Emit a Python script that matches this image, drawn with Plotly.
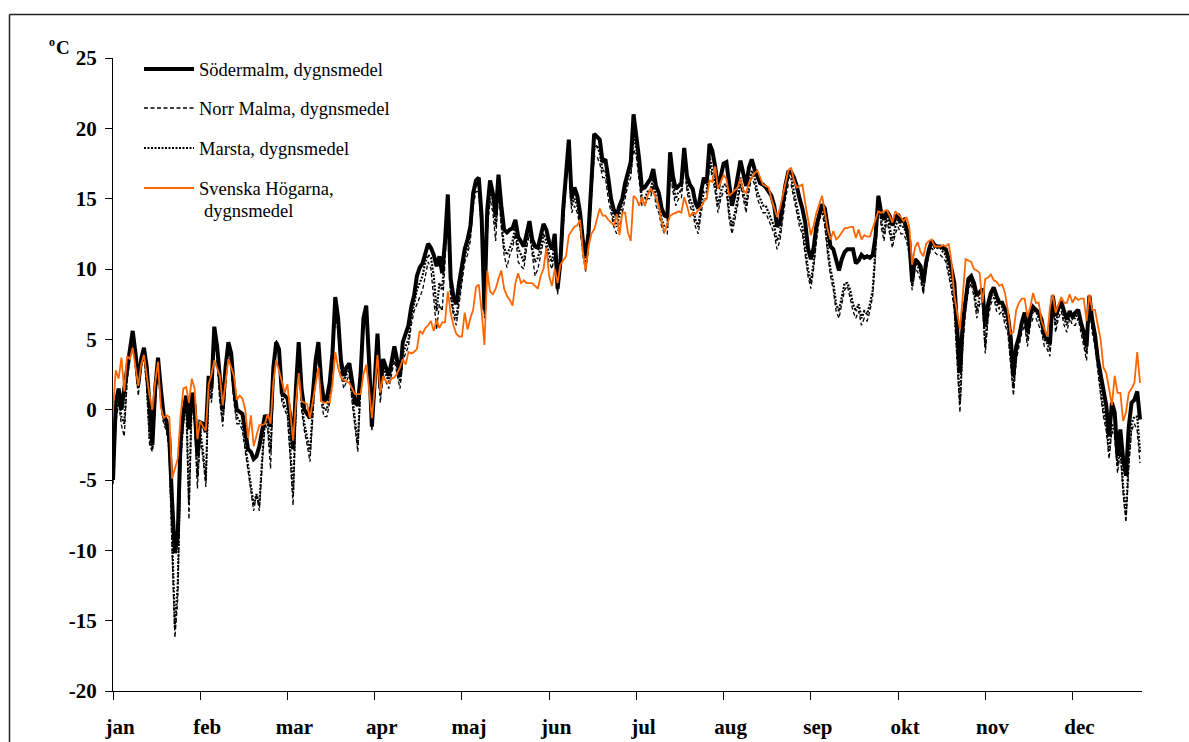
import plotly.graph_objects as go

# Daily mean temperatures (deg C), one value per day, day index 0..365
SODERMALM = [
    -5.0, 0.5, 1.5, 0.0, 1.5, 3.0, 4.5, 5.6, 4.0, 1.8,
    3.6, 4.4, 3.0, 0.0, -2.5, 1.5, 3.7, 1.5, -0.4, -0.8,
    -2.0, -6.5, -10.2, -9.0, -2.2, -0.2, 1.0, -1.4, 1.2, 0.3,
    -3.3, -0.9, -1.0, -1.6, 2.4, 1.5, 5.9, 4.5, 2.0, 0.0,
    3.0, 4.8, 4.0, 1.5, 0.0, -0.2, -0.3, -1.5, -2.8, -3.0,
    -3.5, -3.3, -2.6, -1.5, -0.4, -0.6, -1.2, 3.0, 4.8, 4.3,
    1.2, 1.0, 0.8, -0.5, -2.8, 1.5, 4.8, 1.5, 0.0, -0.3,
    -0.6, 1.0, 3.5, 4.8, 2.0, 0.6, 0.8, 1.9, 4.0, 8.0,
    6.5, 3.5, 2.4, 3.0, 3.3, 2.0, 0.5, 0.3, 2.5, 6.5,
    7.4, 3.5, -1.2, 2.0, 5.4, 1.5, 3.6, 3.0, 2.4, 3.4,
    4.5, 3.5, 2.4, 4.8, 5.5, 6.0, 7.3, 8.1, 9.5, 10.1,
    10.4, 11.2, 11.8, 11.5, 11.0, 10.2, 10.9, 9.7, 12.0, 15.3,
    9.3, 8.0, 7.5, 9.0, 10.3, 11.4, 12.1, 13.0, 15.4, 16.3,
    16.5, 13.8, 7.1, 14.2, 16.3, 15.4, 13.8, 16.7, 14.5, 12.8,
    12.6, 12.8, 12.9, 13.5, 12.3, 12.0, 11.6, 12.5, 13.4, 12.1,
    11.6, 11.5, 12.3, 13.2, 12.8, 11.9, 11.4, 12.5, 8.6, 10.5,
    14.3, 17.0, 19.2, 15.0, 15.8, 15.2, 14.0, 12.0, 10.9, 12.6,
    16.0, 19.6, 19.4, 19.2, 17.6, 17.8, 16.5, 15.0, 14.2, 13.8,
    14.5, 15.0, 16.1, 16.8, 17.6, 21.0, 19.5, 17.8, 15.7, 15.8,
    16.1, 16.4, 17.1, 15.9, 15.4, 14.3, 13.8, 13.7, 18.3, 16.6,
    15.7, 15.9, 16.1, 18.6, 16.6, 16.0, 15.7, 14.7, 14.3, 15.5,
    16.5, 16.1, 18.9, 18.4, 17.3, 15.7, 16.8, 17.5, 17.6, 16.0,
    14.5, 15.4, 16.5, 17.7, 16.8, 15.9, 17.2, 17.8, 17.1, 16.6,
    16.1, 16.0, 15.8, 15.5, 15.2, 14.5, 13.0, 13.3, 14.7, 16.0,
    16.9, 16.9, 16.5, 15.9, 15.0, 14.3, 13.3, 11.5, 10.7, 11.5,
    13.1, 14.0, 14.6, 14.3, 13.0, 11.6, 11.4, 10.5, 9.9, 10.7,
    11.2, 11.4, 11.4, 11.4, 10.4, 10.6, 11.0, 10.8, 10.9, 10.8,
    11.0, 12.3, 15.2, 14.0, 13.5, 14.1, 13.8, 13.1, 13.6, 13.9,
    13.4, 13.5, 12.9, 12.0, 9.1, 10.7, 10.5, 10.2, 9.0, 10.5,
    11.4, 12.0, 11.7, 11.6, 11.6, 11.5, 11.4, 10.7, 10.0, 9.0,
    6.2, 2.6, 6.2, 8.0, 9.3, 9.5, 9.0, 8.1, 8.3, 8.6,
    5.9, 7.5, 8.3, 8.7, 8.1, 7.6, 7.6, 7.2, 6.7, 5.2,
    2.4, 4.5, 5.2, 6.2, 6.9, 5.5, 6.7, 7.3, 7.1, 6.9,
    6.4, 5.3, 5.0, 4.7, 8.1, 6.7, 7.2, 7.7, 7.0, 6.4,
    7.0, 6.6, 6.9, 7.1, 6.2, 5.5, 4.5, 8.1, 6.4, 5.3,
    3.6, 2.5, 1.2, 0.3, -1.9, 0.5, -0.2, -3.3, -1.4, -3.5,
    -4.7, -1.2, 0.5, 0.7, 1.3, -0.7,
]

NORR_MALMA = [
    -5.3, -1.0, 0.5, -1.1, -1.9, 2.0, 3.5, 4.8, 3.0, 1.0,
    3.0, 3.8, 1.5, -2.5, -3.0, 0.5, 3.3, 0.8, -1.0, -1.5,
    -3.0, -10.0, -16.2, -13.5, -4.0, -1.0, 0.5, -7.8, 0.5, -1.0,
    -5.6, -2.0, -3.5, -5.5, 1.8, 0.5, 5.2, 3.5, 0.5, -1.2,
    2.0, 4.4, 3.0, 0.5, -1.0, -1.0, -1.5, -3.0, -4.5, -6.0,
    -7.2, -6.0, -7.2, -4.0, -1.0, -1.5, -4.2, 2.0, 5.0, 4.0,
    0.5, 0.0, -0.5, -3.5, -6.8, 0.0, 4.3, 0.0, -1.5, -2.5,
    -3.7, -0.5, 2.5, 4.3, 0.5, -0.5, -0.5, 0.5, 3.0, 7.0,
    5.5, 2.5, 1.5, 2.0, 2.5, 0.5, -1.5, -3.0, 1.5, 5.5,
    6.5, 2.5, -1.5, 1.0, 4.5, 0.5, 2.5, 2.0, 1.5, 2.5,
    3.5, 2.5, 1.5, 3.5, 4.0, 4.5, 6.0, 7.0, 7.5, 8.0,
    8.5, 9.5, 10.5, 10.0, 8.0, 5.7, 7.5, 7.0, 10.5, 14.0,
    8.0, 6.7, 6.0, 7.5, 9.0, 10.5, 11.0, 12.0, 14.5, 15.5,
    15.5, 12.5, 6.5, 12.5, 15.0, 14.0, 12.0, 15.5, 13.0, 11.0,
    10.1, 11.0, 11.5, 12.5, 10.5, 10.2, 10.0, 11.5, 12.5, 11.0,
    9.5, 10.0, 11.0, 12.0, 11.5, 10.5, 10.0, 11.0, 8.2, 10.0,
    13.0, 16.0, 17.8, 14.0, 14.5, 14.0, 13.0, 11.0, 9.8, 11.5,
    15.0, 18.0, 18.0, 17.5, 16.5, 16.5, 15.0, 14.0, 13.0, 12.5,
    13.0, 14.0, 15.0, 16.0, 16.5, 18.5, 18.0, 16.0, 14.5, 14.5,
    15.0, 15.0, 16.0, 14.5, 14.0, 13.0, 12.5, 12.5, 17.0, 15.5,
    14.5, 15.0, 15.0, 17.5, 15.5, 14.5, 14.0, 13.0, 12.5, 14.0,
    15.0, 15.0, 17.5, 16.5, 15.5, 14.0, 15.0, 15.5, 15.5, 13.5,
    12.5, 13.5, 14.5, 16.0, 15.0, 14.0, 15.5, 16.5, 16.0, 15.0,
    14.5, 14.0, 14.0, 13.5, 13.0, 12.5, 11.4, 12.0, 13.5, 15.0,
    16.0, 16.0, 15.0, 14.0, 13.0, 12.5, 11.0, 9.5, 8.6, 10.0,
    12.0, 13.5, 14.0, 13.0, 11.0, 9.5, 8.5, 7.0, 6.5, 7.5,
    8.5, 8.8, 8.0, 7.0, 6.5, 7.0, 6.0, 6.5, 6.3, 7.0,
    8.1, 11.0, 15.3, 13.0, 12.0, 13.5, 12.5, 11.5, 12.5, 13.0,
    12.5, 12.5, 12.0, 11.0, 8.5, 10.0, 9.8, 9.2, 8.2, 10.0,
    11.0, 11.5, 11.2, 11.0, 11.0, 10.8, 10.5, 9.5, 8.5, 7.0,
    3.5, -0.2, 4.5, 7.0, 8.5, 9.0, 8.0, 6.5, 7.5, 7.5,
    4.0, 6.5, 7.5, 8.0, 7.0, 6.8, 7.0, 6.0, 5.5, 3.5,
    1.0, 3.5, 4.5, 5.5, 6.0, 4.5, 6.0, 6.5, 6.5, 6.0,
    5.5, 4.5, 4.3, 3.8, 7.5, 5.5, 6.5, 7.0, 6.0, 5.5,
    6.5, 6.0, 6.0, 6.5, 5.5, 4.5, 3.5, 7.5, 5.5, 4.5,
    2.5, 1.0, -0.5, -1.5, -3.5, -1.5, -2.0, -4.5, -3.0, -6.0,
    -8.0, -4.0, -1.5, -1.0, -1.5, -3.8,
]

MARSTA = [
    -4.5, -0.5, 1.0, -0.5, -1.0, 2.5, 4.0, 5.0, 3.5, 1.5,
    3.4, 4.0, 2.0, -2.0, -2.8, 1.0, 3.5, 1.0, -0.8, -1.2,
    -2.5, -9.0, -15.5, -12.5, -3.5, -0.8, 0.8, -6.5, 0.8, -0.5,
    -4.8, -1.5, -3.0, -5.0, 2.0, 0.8, 5.5, 4.0, 1.0, -0.8,
    2.5, 4.6, 3.5, 1.0, -0.5, -0.8, -1.0, -2.5, -4.0, -5.5,
    -6.8, -6.0, -6.8, -3.5, -0.8, -1.0, -3.0, 2.5, 4.6, 4.0,
    1.0, 0.3, 0.0, -2.8, -6.0, 0.5, 4.5, 0.5, -1.0, -2.0,
    -3.0, 0.0, 3.0, 4.5, 1.0, 0.0, 0.0, 1.0, 3.5, 7.5,
    6.0, 3.0, 2.0, 2.5, 2.8, 1.0, -1.0, -2.5, 2.0, 6.0,
    7.0, 3.0, -1.0, 1.5, 5.0, 1.0, 3.0, 2.5, 2.0, 3.0,
    4.0, 3.0, 2.0, 4.0, 4.5, 5.0, 6.5, 7.5, 8.5, 9.0,
    9.5, 10.5, 11.0, 10.8, 9.5, 7.0, 9.0, 8.5, 11.5, 14.5,
    8.5, 7.0, 6.5, 8.0, 9.5, 11.0, 11.5, 12.5, 15.0, 16.0,
    16.0, 13.0, 7.0, 13.5, 15.5, 15.0, 13.0, 16.0, 13.5, 11.5,
    11.0, 11.5, 12.0, 13.0, 11.5, 11.0, 10.5, 12.0, 13.0, 11.5,
    10.5, 10.8, 11.5, 12.5, 12.0, 11.0, 10.5, 12.0, 8.5, 10.2,
    13.5, 16.5, 18.3, 14.5, 15.0, 14.5, 13.5, 11.5, 10.2, 12.0,
    15.5, 18.5, 18.8, 18.2, 17.0, 17.0, 15.8, 14.5, 13.5, 13.0,
    13.8, 14.5, 15.5, 16.5, 17.0, 19.5, 18.5, 16.8, 15.0, 15.0,
    15.5, 15.5, 16.5, 15.0, 14.5, 13.5, 13.0, 13.0, 17.5, 16.0,
    15.0, 15.5, 15.5, 18.0, 16.0, 15.0, 14.5, 13.5, 13.0, 14.5,
    15.5, 15.5, 18.0, 17.0, 16.0, 14.5, 15.5, 16.0, 16.0, 14.0,
    13.0, 14.0, 15.0, 16.5, 15.5, 14.5, 16.0, 17.0, 16.5, 15.5,
    15.0, 14.5, 14.5, 14.0, 13.5, 13.0, 12.0, 12.5, 14.0, 15.5,
    16.5, 16.5, 15.5, 14.5, 13.5, 13.0, 11.5, 10.0, 9.0, 10.5,
    12.5, 14.0, 14.5, 13.5, 11.5, 10.0, 9.0, 7.5, 7.0, 8.0,
    9.0, 9.0, 8.5, 7.5, 7.0, 7.5, 6.5, 7.0, 6.8, 7.5,
    8.5, 11.5, 15.0, 13.5, 12.5, 14.0, 13.0, 12.0, 13.0, 13.5,
    13.0, 13.0, 12.5, 11.5, 8.8, 10.5, 10.2, 9.8, 8.5, 10.5,
    11.5, 12.0, 11.5, 11.5, 11.5, 11.2, 11.0, 10.0, 9.0, 7.5,
    4.0, 0.5, 5.0, 7.5, 9.0, 9.2, 8.5, 7.0, 8.0, 8.0,
    4.5, 7.0, 8.0, 8.5, 7.5, 7.2, 7.3, 6.5, 6.0, 4.0,
    1.5, 4.0, 5.0, 6.0, 6.5, 5.0, 6.5, 7.0, 7.0, 6.5,
    6.0, 5.0, 4.7, 4.2, 8.0, 6.0, 7.0, 7.5, 6.5, 6.0,
    7.0, 6.5, 6.5, 7.0, 6.0, 5.0, 4.0, 8.0, 6.0, 5.0,
    3.0, 1.5, 0.0, -1.0, -3.0, -1.0, -1.5, -4.0, -2.5, -5.5,
    -7.5, -3.5, -1.0, -0.5, -0.5, -3.0,
]

SVENSKA_HOGARNA = [
    0.0, 2.8, 2.2, 3.7, 1.3, 3.8, 3.6, 4.4, 3.0, 1.7,
    3.2, 3.9, 2.4, 1.0, 0.0, 2.0, 3.4, 0.2, -0.6, -0.4,
    -0.5, -4.9, -4.2, -3.5, -0.5, 1.5, 1.6, 0.5, 2.2, 1.5,
    -2.1, -0.8, -1.2, -1.5, 1.8, 2.5, 3.5, 3.0, 2.4, 0.3,
    2.0, 3.6, 3.0, 2.4, 0.7, 1.0, 0.8, 0.0, -2.0, -0.4,
    -2.6, -1.8, -1.1, -1.1, -1.0, -0.3, -1.0, 2.0, 3.5, 2.8,
    2.0, 1.2, 1.8, -0.5, -2.2, 0.5, 2.6, 0.6, 0.5, 0.4,
    -0.6, 0.5, 1.8, 3.0, 0.6, 0.5, 0.5, 0.5, 1.8, 4.1,
    3.0, 2.3, 2.1, 2.0, 1.9, 1.5, 1.1, 1.1, 1.1, 2.5,
    3.2, 1.5, -0.6, 1.5, 3.9, 1.2, 2.4, 2.0, 1.9, 2.2,
    2.3, 2.6, 3.0, 3.6, 3.2, 4.1, 4.0, 4.1, 4.3, 5.6,
    5.4, 5.8, 6.0, 6.3, 5.6, 6.4, 5.8, 6.2, 6.2, 8.4,
    6.9, 6.0, 5.4, 5.2, 5.2, 6.9, 5.7, 6.5, 7.1, 8.7,
    8.9, 7.0, 4.6, 9.9, 8.4, 8.2, 8.6, 9.3, 9.9, 8.6,
    8.1, 7.8, 7.4, 9.0, 9.7, 9.0, 9.2, 9.0, 9.0, 9.0,
    8.8, 8.6, 9.5, 10.0, 11.5, 9.5, 8.8, 10.0, 9.0, 10.3,
    10.6, 10.9, 12.4, 12.7, 13.0, 13.1, 13.5, 11.2, 9.9, 11.6,
    12.5, 12.8, 13.5, 14.3, 13.8, 13.8, 13.5, 13.3, 13.1, 13.9,
    12.4, 14.0, 14.0, 12.6, 12.0, 15.2, 15.0, 14.5, 15.1, 14.5,
    15.2, 15.7, 15.5, 15.0, 14.5, 13.3, 12.6, 13.2, 13.8, 13.9,
    14.0, 14.1, 14.0, 15.1, 14.5, 13.7, 14.0, 13.9, 14.2, 14.4,
    14.8, 15.0, 16.3, 16.2, 17.3, 15.7, 16.2, 16.7, 16.4, 15.2,
    15.4, 15.6, 15.8, 16.4, 15.6, 15.4, 16.1, 16.5, 16.8, 17.0,
    16.5, 16.0, 15.9, 15.8, 15.0, 14.3, 13.7, 14.3, 15.2, 15.9,
    17.0, 17.2, 16.3, 15.8, 15.9, 16.0, 14.7, 13.5, 12.4, 13.1,
    14.0, 14.6, 15.2, 14.0, 12.8, 12.1, 12.7, 12.1, 12.3, 12.6,
    12.9, 12.9, 13.0, 13.0, 12.2, 12.8, 12.1, 12.4, 12.3, 12.3,
    12.9, 13.6, 14.1, 14.0, 14.1, 14.2, 13.8, 13.3, 14.1, 13.9,
    13.7, 13.4, 13.7, 13.0, 10.3, 11.5, 11.9, 11.2, 10.9, 11.8,
    12.0, 12.1, 11.6, 11.6, 11.6, 11.7, 11.6, 11.8, 10.5, 8.1,
    6.8, 5.7, 8.1, 10.7, 10.6, 10.5, 10.0, 9.9, 9.7, 7.6,
    9.3, 9.4, 9.6, 9.2, 9.1, 8.8, 8.9, 8.3, 7.1, 5.4,
    5.5, 7.1, 7.6, 7.9, 7.9, 6.6, 7.3, 8.3, 7.6, 7.6,
    6.3, 5.8, 5.2, 7.3, 8.2, 6.9, 7.5, 8.0, 7.6, 7.6,
    8.2, 7.6, 8.0, 7.8, 7.9, 7.9, 6.3, 8.2, 7.1, 7.1,
    6.0, 5.0, 3.0, 2.6, 1.5, 0.3, 2.4, 1.2, 1.2, -0.8,
    -0.2, 1.2, 1.5, 1.9, 4.1, 1.9,
]

MONTH_LABELS = ["jan", "feb", "mar", "apr", "maj", "jun",
                "jul", "aug", "sep", "okt", "nov", "dec"]
Y_TICKS = [-20, -15, -10, -5, 0, 5, 10, 15, 20, 25]
Y_TICK_LABELS = ["-20", "-15", "-10", "-5", "0", "5", "10", "15", "20", "25"]

DAYS = list(range(len(SODERMALM)))
MONTH_STEP = 31          # category interval between axis tick marks
LABEL_SHIFT = 2.5        # labels sit slightly right of their tick mark

SERIF = "Liberation Serif, Times New Roman, serif"
ORANGE = "#FF6600"

series = [
    ("Södermalm, dygnsmedel", SODERMALM, dict(color="black", width=4)),
    ("Norr Malma, dygnsmedel", NORR_MALMA, dict(color="black", width=1.3, dash="4px,2.5px")),
    ("Marsta, dygnsmedel", MARSTA, dict(color="black", width=2.2, dash="2px,1.5px")),
    ("Svenska Högarna, dygnsmedel", SVENSKA_HOGARNA, dict(color=ORANGE, width=1.8)),
]

fig = go.Figure()
for name, values, line in series:
    fig.add_trace(go.Scatter(x=DAYS, y=values, mode="lines", name=name,
                             line=line, showlegend=False, hoverinfo="skip"))

# plot-area geometry in pixels, used to place the hand-drawn legend and frame
W, H = 1189, 742
ML, MR, MT, MB = 113, 47, 58, 51
PW, PH = W - ML - MR, H - MT - MB


def px(x):
    return (x - ML) / PW


def py(y):
    return (H - MB - y) / PH


shapes = [
    # outer chart frame (top and left edges visible)
    dict(type="line", xref="paper", yref="paper", x0=px(9.5), x1=px(1200),
         y0=py(14.5), y1=py(14.5), line=dict(color="#222222", width=1.5)),
    dict(type="line", xref="paper", yref="paper", x0=px(9.5), x1=px(9.5),
         y0=py(14.5), y1=py(760), line=dict(color="#222222", width=1.5)),
]

# unit label: small raised "o" followed by a bold "C"
annotations = [
    dict(xref="paper", yref="paper", x=px(51.5), y=py(42), text="<b>o</b>",
         showarrow=False, font=dict(family=SERIF, size=12, color="black"),
         xanchor="center", yanchor="middle"),
    dict(xref="paper", yref="paper", x=px(54), y=py(47), text="<b>C</b>",
         showarrow=False, font=dict(family=SERIF, size=19, color="black"),
         xanchor="left", yanchor="middle"),
]

# legend: sample line + label for each series
legend_rows = [(69, 70), (108, 109), (148, 149), (188, 189)]
for (name, _, line), (ly, ty) in zip(series, legend_rows):
    shapes.append(dict(type="line", xref="paper", yref="paper",
                       x0=px(144), x1=px(194), y0=py(ly), y1=py(ly),
                       line=dict(color=line["color"], width=line["width"],
                                 dash=line.get("dash", "solid"))))
    label = name.split(" dygnsmedel")[0] if "Högarna" in name else name
    annotations.append(dict(xref="paper", yref="paper", x=px(197), y=py(ty),
                            text=label, showarrow=False, xanchor="left",
                            yanchor="middle",
                            font=dict(family=SERIF, size=18.5, color="black")))
annotations.append(dict(xref="paper", yref="paper", x=px(202), y=py(211),
                        text="dygnsmedel", showarrow=False, xanchor="left",
                        yanchor="middle",
                        font=dict(family=SERIF, size=18.5, color="black")))

fig.update_layout(
    width=W, height=H,
    margin=dict(l=ML, r=MR, t=MT, b=MB, pad=0),
    paper_bgcolor="white", plot_bgcolor="white",
    shapes=shapes, annotations=annotations,
    xaxis=dict(
        range=[0, 365.7], showgrid=False, zeroline=False, automargin=False,
        showline=True, linecolor="black", linewidth=1,
        tickmode="array",
        tickvals=[k * MONTH_STEP + LABEL_SHIFT for k in range(12)],
        ticktext=MONTH_LABELS, ticks="", ticklabelstandoff=17,
        tickfont=dict(family=SERIF, size=21, color="black", weight="bold"),
        minor=dict(tickmode="array",
                   tickvals=[k * MONTH_STEP for k in range(12)],
                   ticks="outside", ticklen=8, tickwidth=1, tickcolor="black",
                   showgrid=False),
    ),
    yaxis=dict(
        range=[-20, 25], showgrid=False, zeroline=False, automargin=False,
        tickmode="array", tickvals=Y_TICKS, ticktext=Y_TICK_LABELS,
        showline=True, linecolor="black", linewidth=1,
        ticks="outside", ticklen=7, tickwidth=1, tickcolor="black",
        ticklabelstandoff=4,
        tickfont=dict(family=SERIF, size=21, color="black", weight="bold"),
    ),
)

fig.write_html("out.html")
